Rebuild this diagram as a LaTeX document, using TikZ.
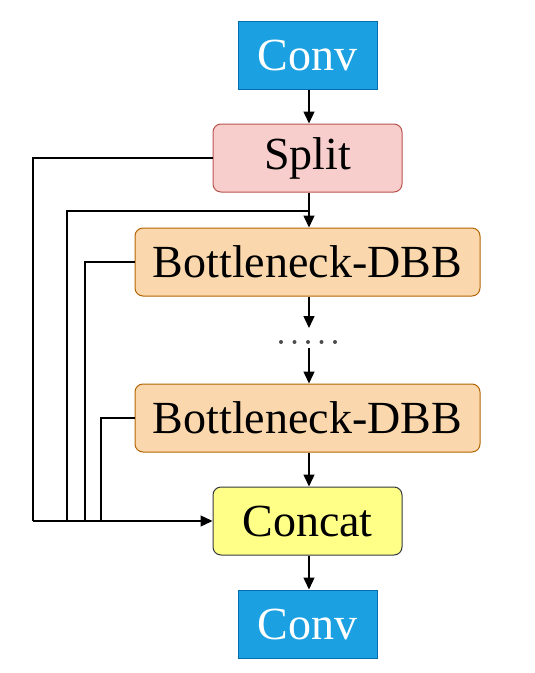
\documentclass[tikz,border=0pt]{standalone}
\usepackage{fontspec}
\setmainfont{Liberation Serif}
\usetikzlibrary{arrows.meta}
\definecolor{convfill}{HTML}{1BA1E2}
\definecolor{convdraw}{HTML}{006EAF}
\definecolor{splitfill}{HTML}{F8CECC}
\definecolor{splitdraw}{HTML}{B85450}
\definecolor{bnfill}{HTML}{FAD7AC}
\definecolor{bndraw}{HTML}{B46504}
\definecolor{catfill}{HTML}{FFFF88}
\definecolor{catdraw}{HTML}{36393D}
\begin{document}
\begin{tikzpicture}[x=1pt,y=-1pt,
  base/.style={inner sep=0pt, font=\fontsize{46}{50}\selectfont, line width=1pt},
  convbox/.style={base, rectangle, fill=convfill, draw=convdraw, text=white, minimum width=139pt, minimum height=68pt},
  rbox/.style={base, rectangle, rounded corners=8pt, minimum height=68pt},
  splitbox/.style={rbox, fill=splitfill, draw=splitdraw, minimum width=189pt},
  bnbox/.style={rbox, fill=bnfill, draw=bndraw, minimum width=345pt},
  catbox/.style={rbox, fill=catfill, draw=catdraw, minimum width=189pt},
  conn/.style={line width=1.4pt, -{Triangle[length=12pt,width=11pt]}},
  wire/.style={line width=1.4pt},
  dotmark/.style={fill=black!70}
]
\useasboundingbox (0,0) rectangle (535,673);
\node[convbox] (conv1) at (307.5,55) {Conv};
\node[splitbox] (split) at (307.5,158) {Split};
\node[bnbox] (bn1) at (307.5,262) {Bottleneck-DBB};
\node[bnbox] (bn2) at (307.5,418) {Bottleneck-DBB};
\node[catbox] (cat) at (307.5,521) {Concat};
\node[convbox] (conv2) at (307.5,624) {Conv};
\coordinate (d1) at (309,328);
\coordinate (d2) at (309,348);
\coordinate (br) at (309,211);
\coordinate (xa) at (33,521);
\foreach \i in {0,...,4} \fill[dotmark] (281+13.5*\i,342) circle (2pt);
\draw[conn] (conv1.south -| d1) -- (split.north -| d1);
\draw[conn] (split.south -| d1) -- (bn1.north -| d1);
\draw[conn] (bn1.south -| d1) -- (d1);
\draw[conn] (d2) -- (bn2.north -| d1);
\draw[conn] (bn2.south -| d1) -- (cat.north -| d1);
\draw[conn] (cat.south -| d1) -- (conv2.north -| d1);
\draw[wire] (split.west) -| (33,521);
\draw[wire] (br) -| (67,521);
\draw[wire] (bn1.west) -| (85,521);
\draw[wire] (bn2.west) -| (101,521);
\draw[conn] (xa) -- (cat.west);
\end{tikzpicture}
\end{document}
